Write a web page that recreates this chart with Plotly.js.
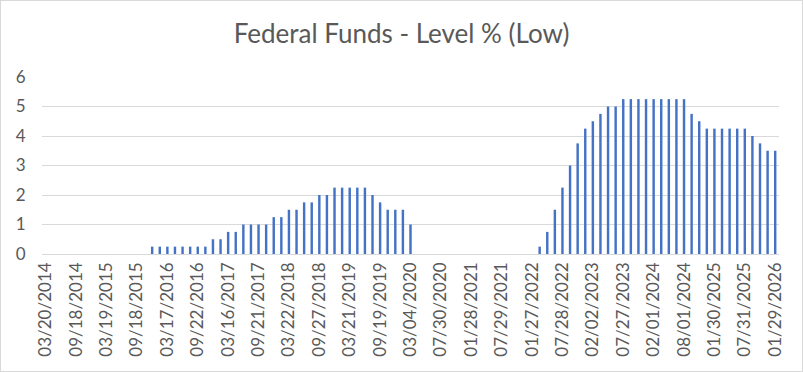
<!DOCTYPE html>
<html>
<head>
<meta charset="utf-8">
<script src="https://cdn.plot.ly/plotly-3.0.1.min.js"></script>
<style>
html,body{margin:0;padding:0;background:#fff;}
#chart{width:801px;height:370px;border:1px solid #d9d9d9;}
</style>
</head>
<body>
<div id="chart"></div>
<script>
const meetingDates = [
"03/20/2014","05/01/2014","06/19/2014","07/31/2014","09/18/2014","10/30/2014","12/18/2014",
"01/29/2015","03/19/2015","04/30/2015","06/18/2015","07/30/2015","09/18/2015","10/29/2015","12/17/2015",
"01/28/2016","03/17/2016","04/28/2016","06/16/2016","07/28/2016","09/22/2016","11/03/2016","12/15/2016",
"02/02/2017","03/16/2017","05/04/2017","06/15/2017","07/27/2017","09/21/2017","11/02/2017","12/14/2017",
"02/01/2018","03/22/2018","05/03/2018","06/14/2018","08/02/2018","09/27/2018","11/09/2018","12/20/2018",
"01/31/2019","03/21/2019","05/02/2019","06/20/2019","08/01/2019","09/19/2019","10/31/2019","12/12/2019",
"01/30/2020","03/04/2020","03/16/2020","04/30/2020","06/11/2020","07/30/2020","09/17/2020","11/06/2020","12/17/2020",
"01/28/2021","03/18/2021","04/29/2021","06/17/2021","07/29/2021","09/23/2021","11/04/2021","12/16/2021",
"01/27/2022","03/17/2022","05/05/2022","06/16/2022","07/28/2022","09/22/2022","11/03/2022","12/15/2022",
"02/02/2023","03/23/2023","05/04/2023","06/15/2023","07/27/2023","09/21/2023","11/02/2023","12/14/2023",
"02/01/2024","03/21/2024","05/02/2024","06/13/2024","08/01/2024","09/19/2024","11/08/2024","12/19/2024",
"01/30/2025","03/20/2025","05/08/2025","06/19/2025","07/31/2025","09/18/2025","10/30/2025","12/11/2025",
"01/29/2026"
];
const lowRate = [
0,0,0,0,0,0,0,
0,0,0,0,0,0,0,0.25,
0.25,0.25,0.25,0.25,0.25,0.25,0.25,0.5,
0.5,0.75,0.75,1,1,1,1,1.25,
1.25,1.5,1.5,1.75,1.75,2,2,2.25,
2.25,2.25,2.25,2.25,2,1.75,1.5,1.5,
1.5,1,0,0,0,0,0,0,0,
0,0,0,0,0,0,0,0,
0,0.25,0.75,1.5,2.25,3,3.75,4.25,
4.5,4.75,5,5,5.25,5.25,5.25,5.25,
5.25,5.25,5.25,5.25,5.25,4.75,4.5,4.25,
4.25,4.25,4.25,4.25,4.25,4,3.75,3.5,
3.5
];
const chartTitle = "Federal Funds - Level % (Low)";
const labelEvery = 4;
const tickDates = meetingDates.filter((d, i) => i % labelEvery === 0);

const font = "Lato, 'Open Sans', sans-serif";
const grey = "#595959";

Plotly.newPlot("chart", [{
  type: "bar",
  x: meetingDates,
  y: lowRate,
  marker: {color: "#4472C4"},
  hoverinfo: "x+y"
}], {
  width: 801, height: 370,
  margin: {l: 41, r: 23, t: 76, b: 117, pad: 0},
  paper_bgcolor: "#fff",
  plot_bgcolor: "#fff",
  bargap: 0.68,
  showlegend: false,
  title: {text: chartTitle, font: {family: font, size: 26, color: grey}, x: 0.5, xanchor: "center", y: 0.91, yanchor: "middle"},
  xaxis: {
    type: "category",
    automargin: false,
    tickmode: "array",
    tickvals: tickDates,
    ticktext: tickDates,
    tickangle: -90,
    tickfont: {family: font, size: 17, color: grey},
    showgrid: false,
    showline: false,
    zeroline: false,
    ticks: "",
    ticklabelstandoff: 4
  },
  yaxis: {
    automargin: false,
    range: [0, 6],
    dtick: 1,
    tickfont: {family: font, size: 17, color: grey},
    gridcolor: "#d9d9d9",
    gridwidth: 1,
    zeroline: true,
    zerolinecolor: "#d9d9d9",
    zerolinewidth: 1,
    showline: false,
    ticks: "outside",
    ticklen: 12,
    tickcolor: "rgba(0,0,0,0)"
  }
}, {displayModeBar: false, staticPlot: true});
</script>
</body>
</html>
